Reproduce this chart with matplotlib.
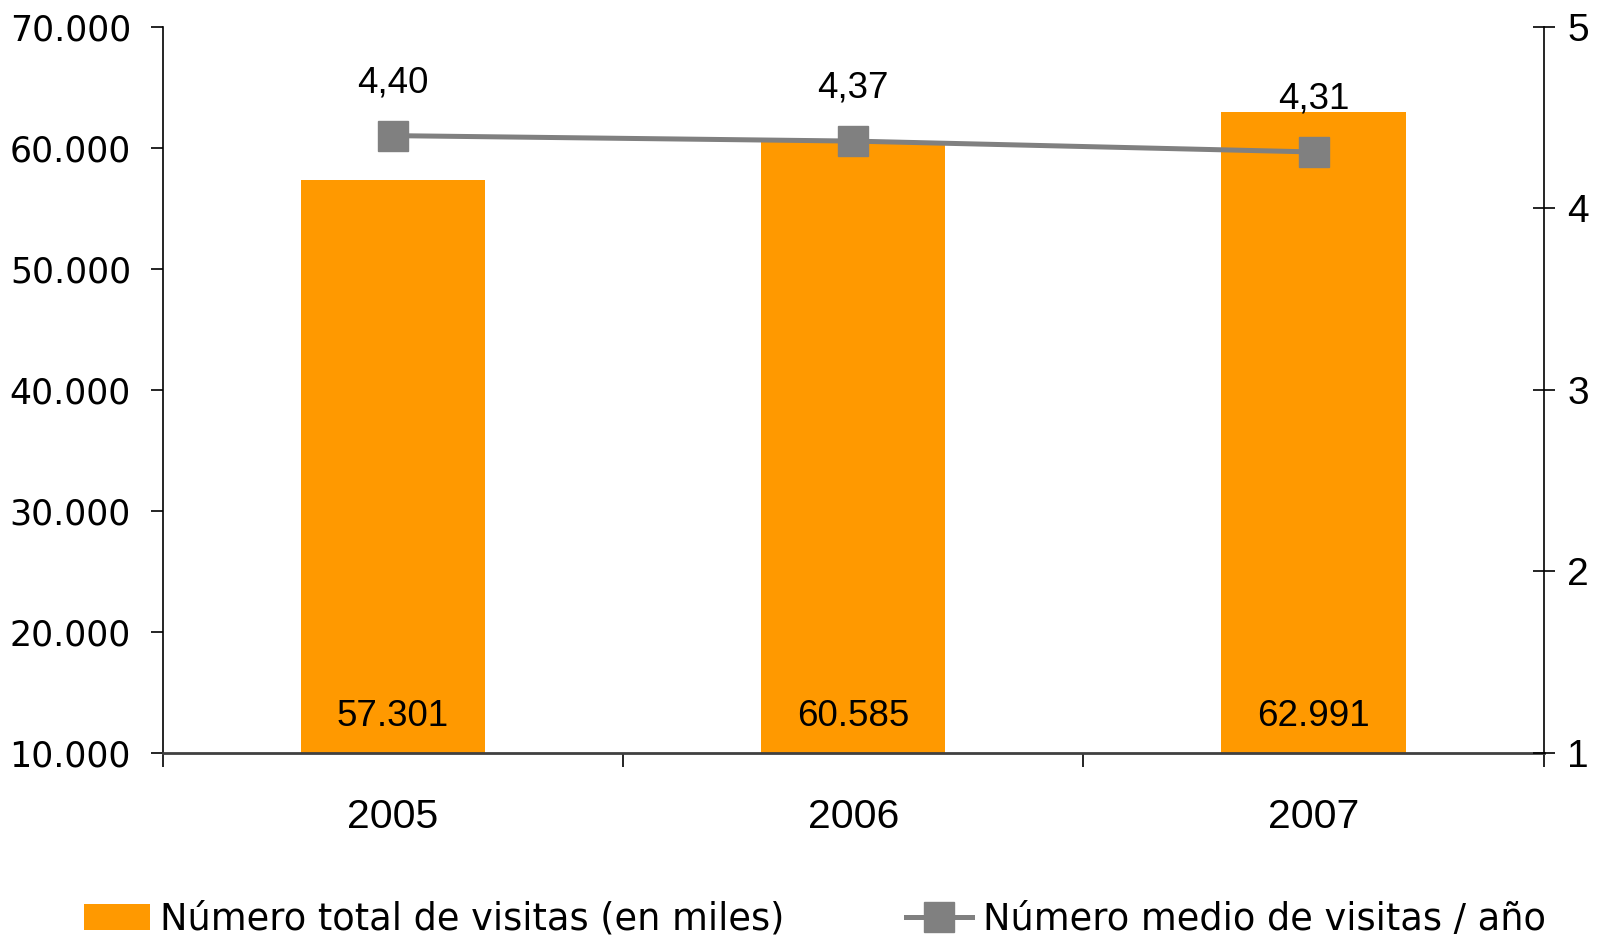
import matplotlib
matplotlib.use("Agg")
import matplotlib.pyplot as plt
from matplotlib.lines import Line2D
from matplotlib.patches import Patch
import numpy as np

years = ["2005", "2006", "2007"]
visitas_total = [57301, 60585, 62991]
visitas_medio = [4.40, 4.37, 4.31]
bar_labels = ["57.301", "60.585", "62.991"]
line_labels = ["4,40", "4,37", "4,31"]
left_ticks = [10000, 20000, 30000, 40000, 50000, 60000, 70000]
left_tick_labels = ["10.000", "20.000", "30.000", "40.000", "50.000", "60.000", "70.000"]
right_ticks = [1, 2, 3, 4, 5]

ORANGE = "#FF9900"
GRAY = "#808080"
ARIAL = "Liberation Sans"
TAHOMA = "DejaVu Sans"

fig = plt.figure(figsize=(16.13, 9.39), dpi=100)
ax = fig.add_axes([0.101, 0.198, 0.856, 0.7736])
x = np.arange(len(years))

ax.bar(x, visitas_total, width=0.4, color=ORANGE, zorder=2)
ax.set_ylim(10000, 70000)
ax.set_xlim(-0.5, 2.5)
ax.set_yticks(left_ticks)
ax.set_yticklabels(left_tick_labels, fontsize=25, family=TAHOMA)
ax.tick_params(axis="y", length=9, width=1.2, pad=14, direction="out")

ax.set_xticks(x)
ax.set_xticklabels(years, fontsize=29.5, family=ARIAL)
ax.tick_params(axis="x", which="major", length=0, pad=32)
ax.set_xticks([-0.5, 0.5, 1.5, 2.5], minor=True)
ax.tick_params(axis="x", which="minor", length=10, width=1.2, direction="out")

ax.spines["top"].set_visible(False)
ax.spines["right"].set_visible(False)
ax.spines["left"].set_linewidth(1.2)
ax.spines["bottom"].set_linewidth(2)
ax.spines["bottom"].set_color("#404040")

for xi, lab in zip(x, bar_labels):
    ax.annotate(lab, xy=(xi, 10000), xytext=(0, 26), textcoords="offset points",
                ha="center", va="center", fontsize=26.5, family=ARIAL)

ax2 = ax.twinx()
ax2.plot(x, visitas_medio, color=GRAY, linewidth=3.6, marker="s", markersize=21,
         zorder=3)
ax2.set_ylim(1, 5)
ax2.set_yticks(right_ticks)
ax2.set_yticklabels([str(t) for t in right_ticks], fontsize=28, family=ARIAL)
ax2.tick_params(axis="y", length=16, width=1.2, pad=9, direction="inout")
for s in ["top", "left", "bottom"]:
    ax2.spines[s].set_visible(False)
ax2.spines["right"].set_linewidth(1.2)

for xi, yi, lab in zip(x, visitas_medio, line_labels):
    ax2.annotate(lab, xy=(xi, yi), xytext=(0, 38), textcoords="offset points",
                 ha="center", va="center", fontsize=26.5, family=ARIAL)

handles = [
    Patch(facecolor=ORANGE, edgecolor="none"),
    Line2D([0], [0], color=GRAY, linewidth=3.6, marker="s", markersize=21),
]
labels = ["Número total de visitas (en miles)", "Número medio de visitas / año"]
fig.legend(handles, labels, loc="center", bbox_to_anchor=(0.505, 0.021), ncol=2,
           frameon=False, prop={"family": TAHOMA, "size": 26.5},
           handlelength=1.8, handletextpad=0.28, columnspacing=3.3,
           borderpad=0, borderaxespad=0)

fig.savefig("out.png", dpi=100)
